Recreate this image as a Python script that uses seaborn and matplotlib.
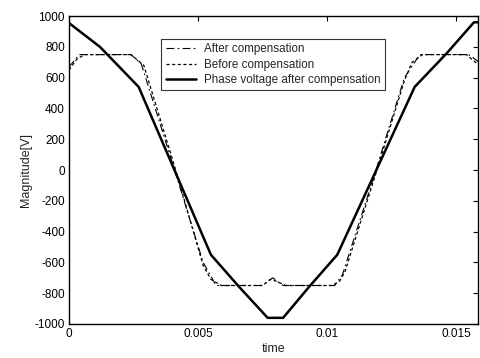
import numpy as np
import pandas as pd
import matplotlib
matplotlib.use("Agg")
import matplotlib.pyplot as plt
import seaborn as sns

# Time samples (s) and voltages (V) for each trace
t_after = [0.0, 0.0004, 0.0024, 0.0028, 0.0040, 0.0052, 0.0057, 0.0075, 0.0079,
           0.0083, 0.0103, 0.0106, 0.0119, 0.0130, 0.0136, 0.0155, 0.0159]
v_after = [670, 750, 750, 690, 50, -600, -750, -750, -700,
           -750, -750, -680, 0, 600, 750, 750, 700]

t_before = [0.0, 0.0003, 0.0006, 0.0024, 0.0029, 0.0041, 0.0052, 0.0055, 0.0059,
            0.0075, 0.0078, 0.0080, 0.0084, 0.0102, 0.0105, 0.0107, 0.0119,
            0.0130, 0.0133, 0.0137, 0.0154, 0.0159]
v_before = [650, 720, 750, 750, 680, 20, -620, -710, -750,
            -750, -710, -720, -750, -750, -720, -660, -20,
            580, 700, 750, 750, 680]

t_phase = [0.0, 0.0012, 0.0027, 0.0055, 0.0066, 0.0077, 0.0083, 0.0093,
           0.0104, 0.0134, 0.01465, 0.0157, 0.0159]
v_phase = [955, 800, 540, -550, -760, -960, -960, -760,
           -550, 540, 760, 960, 960]

labels = ["After compensation", "Before compensation", "Phase voltage after compensation"]

df = pd.concat([
    pd.DataFrame({"time": t_after, "v": v_after, "series": labels[0]}),
    pd.DataFrame({"time": t_before, "v": v_before, "series": labels[1]}),
    pd.DataFrame({"time": t_phase, "v": v_phase, "series": labels[2]}),
])

sns.set_theme(style="white")
plt.rcParams["font.family"] = ["Liberation Sans", "DejaVu Sans"]
plt.rcParams["axes.unicode_minus"] = False

fig = plt.figure(figsize=(4.81, 3.58), dpi=100)
ax = fig.add_axes([0.1435, 0.095, 0.850, 0.860])

styles = {
    labels[0]: dict(dashes=(7, 3, 1.5, 3), lw=0.8),
    labels[1]: dict(dashes=(2.5, 2), lw=0.9),
    labels[2]: dict(dashes=None, lw=1.8),
}
for name in labels:
    sub = df[df["series"] == name]
    st = styles[name]
    sns.lineplot(data=sub, x="time", y="v", ax=ax, color="black",
                 lw=st["lw"], label=name, sort=False, estimator=None)
    ln = ax.get_lines()[-1]
    if st["dashes"] is not None:
        ln.set_dashes(st["dashes"])

ax.set_xlim(0, 0.01585)
ax.set_ylim(-1000, 1000)
ax.set_xticks([0, 0.005, 0.01, 0.015])
ax.set_xticklabels(["0", "0.005", "0.01", "0.015"])
ax.set_yticks(np.arange(-1000, 1001, 200))
ax.set_xlabel("time", fontsize=9, labelpad=2)
ax.set_ylabel("Magnitude[V]", fontsize=9, labelpad=2)
ax.tick_params(direction="in", length=3.5, width=0.8, labelsize=8.5,
               top=True, right=True, colors="black", pad=3)
for s in ax.spines.values():
    s.set_color("black")
    s.set_linewidth(1.0)

leg = ax.legend(loc="upper left", bbox_to_anchor=(0.226, 0.925), fontsize=8.4,
                frameon=True, fancybox=False, edgecolor="black",
                handlelength=2.6, borderpad=0.35, labelspacing=0.3,
                handletextpad=0.7, borderaxespad=0)
leg.get_frame().set_linewidth(0.8)

fig.savefig("out.png", dpi=100)
